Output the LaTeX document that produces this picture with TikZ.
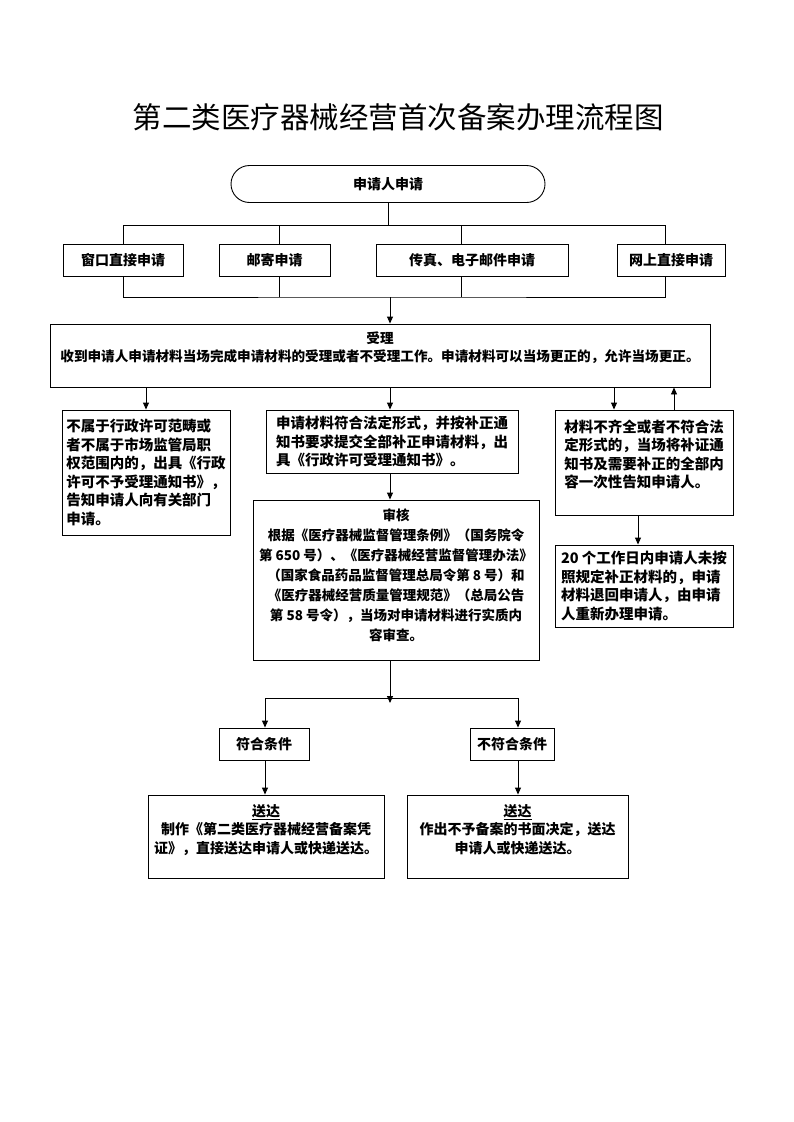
\documentclass[tikz,border=0pt]{standalone}
\usepackage{fontspec}
\setmainfont{Noto Sans CJK SC}
\usetikzlibrary{arrows.meta,shapes.misc,positioning}

\begin{document}
\begin{tikzpicture}[
    x=1pt,y=-1pt,
    block/.style={rectangle,draw,line width=0.9pt,inner sep=0pt,align=left,font=\fontsize{14.5}{18.5}\selectfont\bfseries},
    cblock/.style={block,align=center,font=\fontsize{14}{18.5}\selectfont\bfseries},
    link/.style={line width=0.9pt},
    arrow/.style={line width=0.9pt,-{Triangle[length=7pt,width=6pt]}}
]
    \useasboundingbox (0,0) rectangle (793,1122);
    \node[font=\fontsize{29.5}{32}\selectfont] (title) at (398,117) {第二类医疗器械经营首次备案办理流程图};

    \node[cblock,rounded rectangle,minimum width=314pt,minimum height=37pt] (apply) at (388,184) {申请人申请};

    \node[cblock,minimum width=120pt,minimum height=32pt] (win) at (123,260) {窗口直接申请};
    \node[cblock,minimum width=111pt,minimum height=32pt] (mail) at (274.5,260) {邮寄申请};
    \node[cblock,minimum width=192pt,minimum height=32pt] (fax) at (472,260) {传真、电子邮件申请};
    \node[cblock,minimum width=108pt,minimum height=32pt] (web) at (671,260) {网上直接申请};

    \node[cblock,minimum width=660pt,minimum height=63pt,font=\fontsize{13.6}{18}\selectfont\bfseries] (accept) at (380,355.5) {受理\\收到申请人申请材料当场完成申请材料的受理或者不受理工作。申请材料可以当场更正的，允许当场更正。\\[-1pt]};

    \node[block,minimum width=168pt,minimum height=125pt] (reject) at (146,472.5) {不属于行政许可范畴或\\者不属于市场监管局职\\权范围内的，出具《行政\\许可不予受理通知书》，\\告知申请人向有关部门\\申请。};
    \node[block,minimum width=252pt,minimum height=63pt] (notice) at (392,441.5) {申请材料符合法定形式，并按补正通\\知书要求提交全部补正申请材料，出\\具《行政许可受理通知书》。};
    \node[block,minimum width=178pt,minimum height=105pt] (amend) at (644,462.5) {材料不齐全或者不符合法\\定形式的，当场将补证通\\知书及需要补正的全部内\\容一次性告知申请人。\\[-0.5pt]};
    \node[cblock,minimum width=286pt,minimum height=160pt,font=\fontsize{13.5}{20}\selectfont\bfseries] (review) at (396,580) {审核\\根据《医疗器械监督管理条例》（国务院令\\第 650 号）、《医疗器械经营监督管理办法》\\（国家食品药品监督管理总局令第 8 号）和\\《医疗器械经营质量管理规范》（总局公告\\第 58 号令），当场对申请材料进行实质内\\容审查。\\[-10pt]};
    \node[block,minimum width=178pt,minimum height=82pt] (returned) at (644,586) {20 个工作日内申请人未按\\照规定补正材料的，申请\\材料退回申请人，由申请\\人重新办理申请。};

    \node[cblock,minimum width=90pt,minimum height=32pt] (ok) at (264,744) {符合条件};
    \node[cblock,minimum width=84pt,minimum height=32pt] (nok) at (512,744) {不符合条件};

    \node[cblock,minimum width=236pt,minimum height=83pt] (send1) at (266,836.5) {\underline{送达}\\制作《第二类医疗器械经营备案凭\\证》，直接送达申请人或快递送达。\\[-2.5pt]};
    \node[cblock,minimum width=221pt,minimum height=83pt] (send2) at (517.5,836.5) {\underline{送达}\\作出不予备案的书面决定，送达\\申请人或快递送达。\\[-2.5pt]};

    \coordinate (join) at (390,297);
    \coordinate (split) at (390,698);
    \coordinate (down) at ([xshift=-30pt]amend.north);
    \coordinate (back) at ([xshift=30pt]amend.north);

    \draw[link] (apply.south) -- ++(0,22) coordinate (fork);
    \draw[link] (win.north) |- (fork) -| ([xshift=-6pt]web.north);
    \draw[link] ([xshift=4.5pt]mail.north) -- ([xshift=4.5pt]mail.north |- fork);
    \draw[link] ([xshift=-11pt]fax.north) -- ([xshift=-11pt]fax.north |- fork);
    \draw[link] (win.south) |- (join) -| ([xshift=-6pt]web.south);
    \draw[link] ([xshift=4.5pt]mail.south) -- ([xshift=4.5pt]mail.south |- join);
    \draw[link] ([xshift=-11pt]fax.south) -- ([xshift=-11pt]fax.south |- join);
    \draw[arrow] (join) -- (join |- accept.north);

    \draw[arrow] (reject.north |- accept.south) -- (reject.north);
    \draw[arrow] (join |- accept.south) -- (join |- notice.north);
    \draw[arrow] (down |- accept.south) -- (down);
    \draw[arrow] (back) -- (back |- accept.south);
    \draw[arrow] (join |- notice.south) -- (join |- review.north);
    \draw[arrow] ([xshift=-6pt]amend.south) -- ([xshift=-6pt]returned.north);

    \draw[arrow] (join |- review.south) -- ([yshift=-5pt]split);
    \draw[arrow] (split) -| ([xshift=1pt]ok.north);
    \draw[arrow] (split) -| ([xshift=6pt]nok.north);
    \draw[arrow] ([xshift=1pt]ok.south) -- ([xshift=1pt]ok.south |- send1.north);
    \draw[arrow] ([xshift=6pt]nok.south) -- ([xshift=6pt]nok.south |- send2.north);
\end{tikzpicture}
\end{document}
